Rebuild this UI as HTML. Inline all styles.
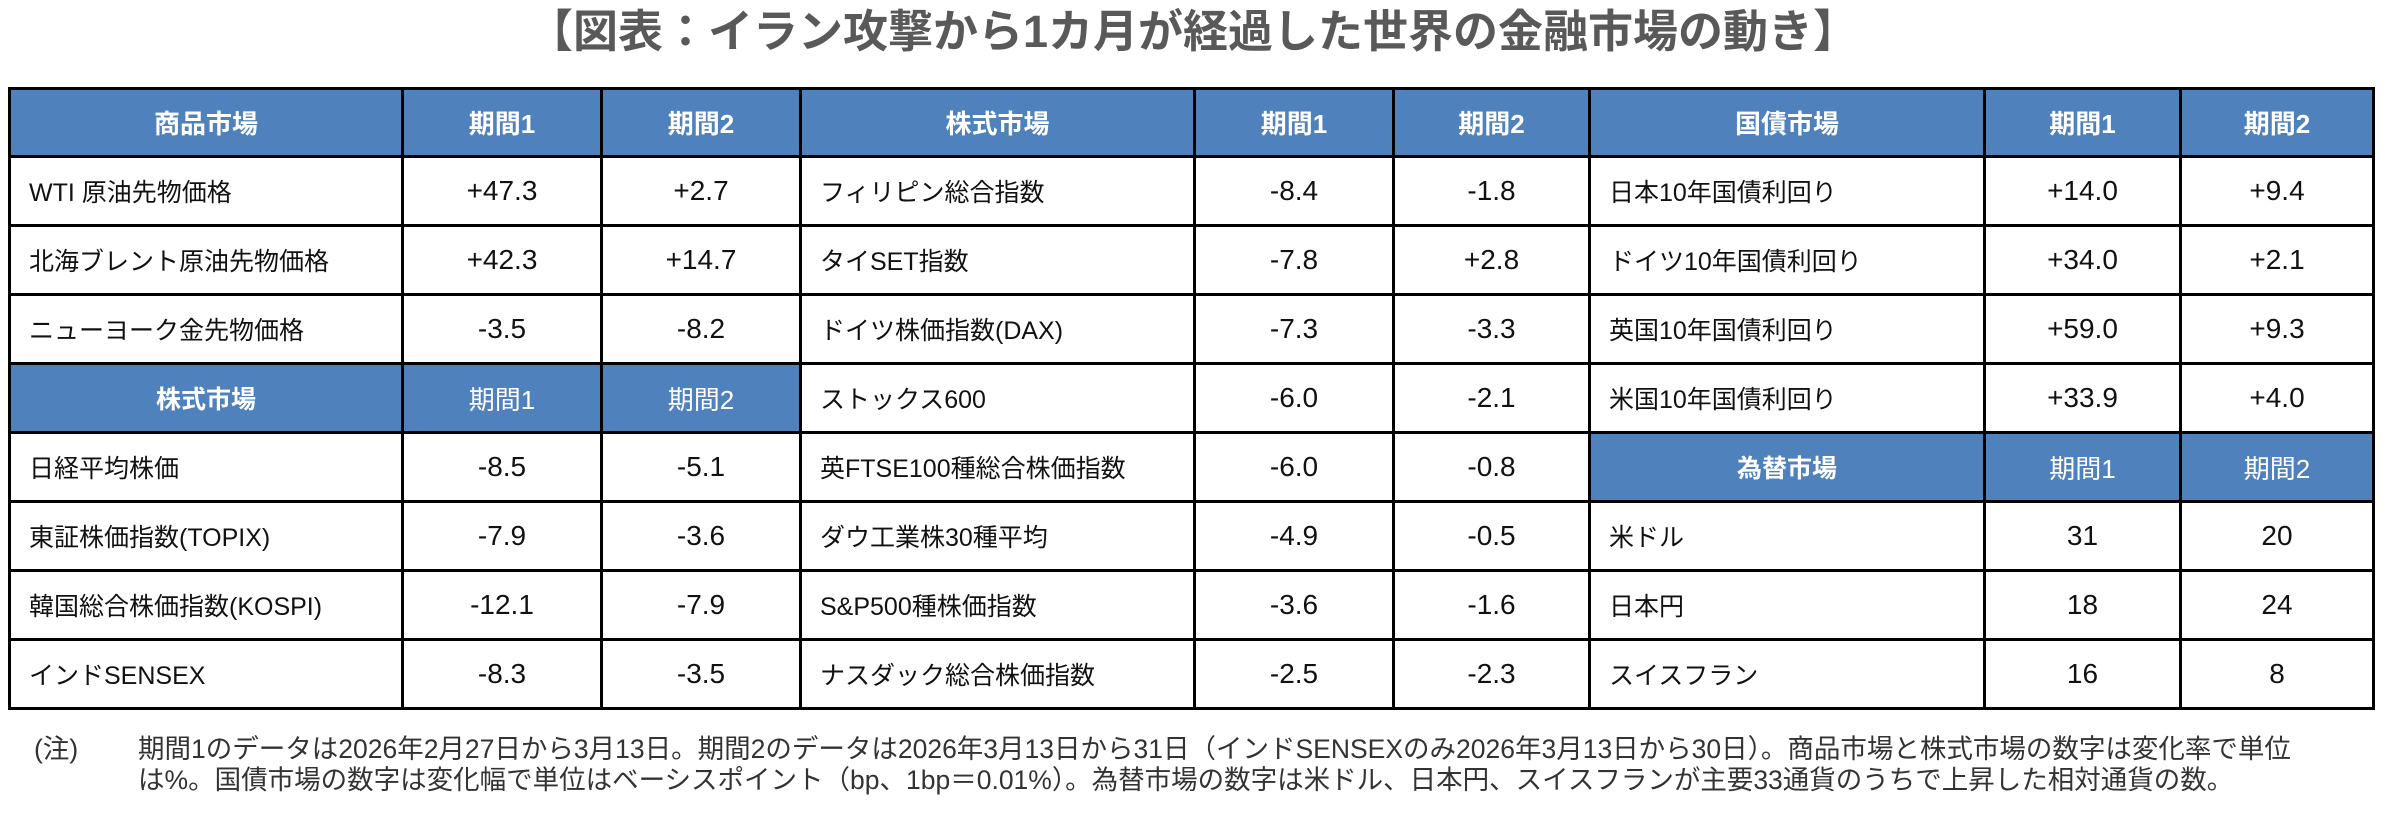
<!DOCTYPE html>
<html><head><meta charset="utf-8">
<style>
html,body{margin:0;padding:0;background:#fff;}
body{width:2386px;height:823px;position:relative;overflow:hidden;font-family:"Liberation Sans","Noto Sans CJK JP",sans-serif;}
.title{position:absolute;left:0;width:2386px;top:6px;text-align:center;font-size:45px;font-weight:bold;color:#595959;line-height:52px;}
table{position:absolute;left:8px;top:87px;border-collapse:collapse;table-layout:fixed;width:2364px;}
td{border:3px solid #000;height:66px;padding:0;font-size:28px;color:#111;text-align:center;white-space:nowrap;}
tr.h td{height:65px;font-size:26px;}
td.l{text-align:left;padding-left:18px;font-size:25px;}
td.hd{background:#4f81bd;color:#fff;font-weight:bold;font-size:25px;}
td.hn{background:#4f81bd;color:#fff;font-size:26px;}
.note{position:absolute;left:34px;top:734px;font-size:26.5px;color:#333;line-height:31px;white-space:nowrap;}
.note span{display:inline-block;width:104px;}
</style></head><body>
<div class="title">【図表：イラン攻撃から1カ月が経過した世界の金融市場の動き】</div>
<table>
<colgroup><col style="width:393px"><col style="width:199px"><col style="width:199px"><col style="width:394px"><col style="width:199px"><col style="width:196px"><col style="width:395px"><col style="width:196px"><col style="width:193px"></colgroup>
<tr class="h"><td class="hd">商品市場</td><td class="hd">期間1</td><td class="hd">期間2</td><td class="hd">株式市場</td><td class="hd">期間1</td><td class="hd">期間2</td><td class="hd">国債市場</td><td class="hd">期間1</td><td class="hd">期間2</td></tr>
<tr><td class="l">WTI 原油先物価格</td><td>+47.3</td><td>+2.7</td><td class="l">フィリピン総合指数</td><td>-8.4</td><td>-1.8</td><td class="l">日本10年国債利回り</td><td>+14.0</td><td>+9.4</td></tr>
<tr><td class="l">北海ブレント原油先物価格</td><td>+42.3</td><td>+14.7</td><td class="l">タイSET指数</td><td>-7.8</td><td>+2.8</td><td class="l">ドイツ10年国債利回り</td><td>+34.0</td><td>+2.1</td></tr>
<tr><td class="l">ニューヨーク金先物価格</td><td>-3.5</td><td>-8.2</td><td class="l">ドイツ株価指数(DAX)</td><td>-7.3</td><td>-3.3</td><td class="l">英国10年国債利回り</td><td>+59.0</td><td>+9.3</td></tr>
<tr><td class="hd">株式市場</td><td class="hn">期間1</td><td class="hn">期間2</td><td class="l">ストックス600</td><td>-6.0</td><td>-2.1</td><td class="l">米国10年国債利回り</td><td>+33.9</td><td>+4.0</td></tr>
<tr><td class="l">日経平均株価</td><td>-8.5</td><td>-5.1</td><td class="l">英FTSE100種総合株価指数</td><td>-6.0</td><td>-0.8</td><td class="hd">為替市場</td><td class="hn">期間1</td><td class="hn">期間2</td></tr>
<tr><td class="l">東証株価指数(TOPIX)</td><td>-7.9</td><td>-3.6</td><td class="l">ダウ工業株30種平均</td><td>-4.9</td><td>-0.5</td><td class="l">米ドル</td><td>31</td><td>20</td></tr>
<tr><td class="l">韓国総合株価指数(KOSPI)</td><td>-12.1</td><td>-7.9</td><td class="l">S&amp;P500種株価指数</td><td>-3.6</td><td>-1.6</td><td class="l">日本円</td><td>18</td><td>24</td></tr>
<tr><td class="l">インドSENSEX</td><td>-8.3</td><td>-3.5</td><td class="l">ナスダック総合株価指数</td><td>-2.5</td><td>-2.3</td><td class="l">スイスフラン</td><td>16</td><td>8</td></tr>
</table>
<div class="note"><span>(注)</span>期間1のデータは2026年2月27日から3月13日。期間2のデータは2026年3月13日から31日（インドSENSEXのみ2026年3月13日から30日）。商品市場と株式市場の数字は変化率で単位<br><span></span>は%。国債市場の数字は変化幅で単位はベーシスポイント（bp、1bp＝0.01%）。為替市場の数字は米ドル、日本円、スイスフランが主要33通貨のうちで上昇した相対通貨の数。</div>
</body></html>
